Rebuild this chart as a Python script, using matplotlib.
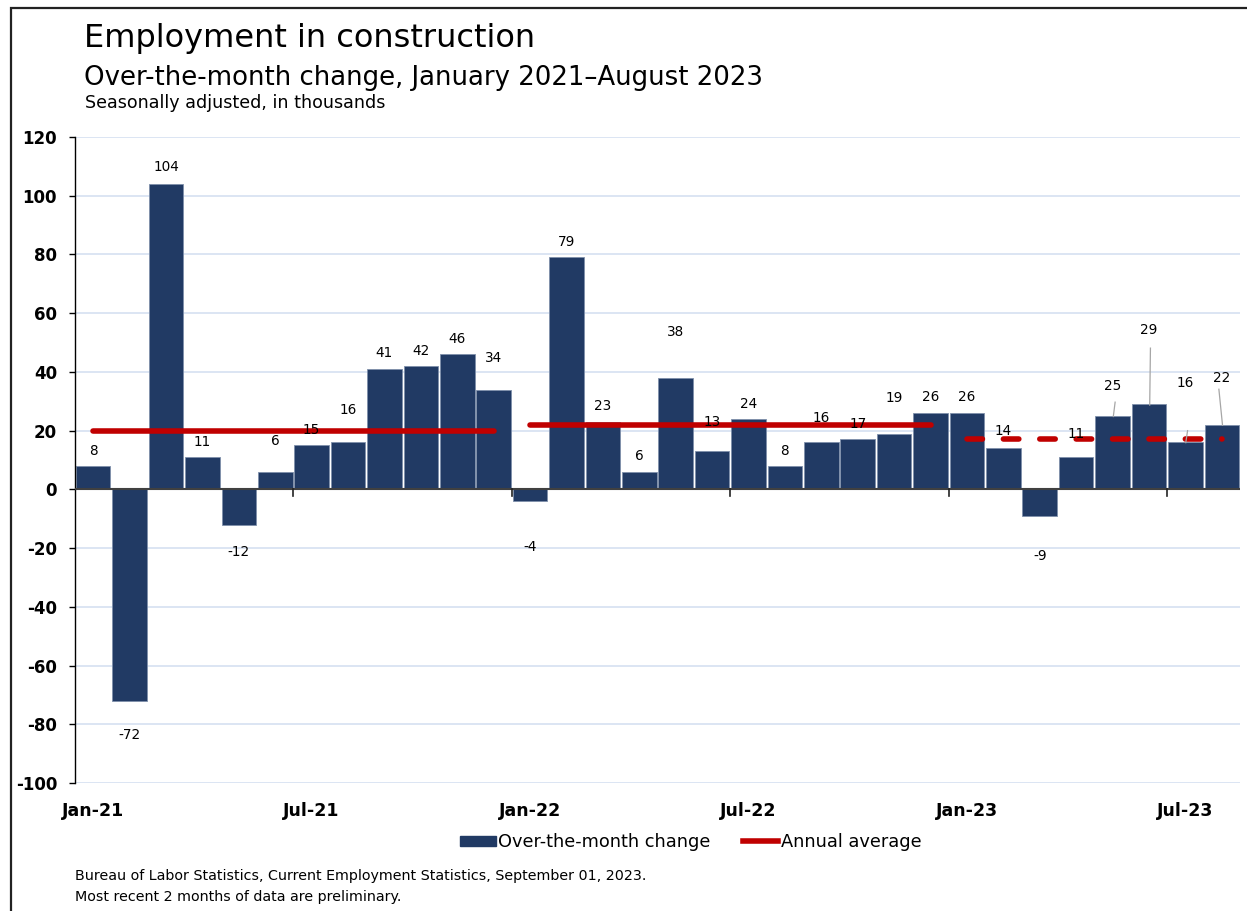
import matplotlib
matplotlib.use('Agg')
import matplotlib.pyplot as plt
from matplotlib.lines import Line2D
from matplotlib.patches import Patch, Rectangle

# ---------------- data ----------------
months = ['Jan-21', 'Feb-21', 'Mar-21', 'Apr-21', 'May-21', 'Jun-21',
          'Jul-21', 'Aug-21', 'Sep-21', 'Oct-21', 'Nov-21', 'Dec-21',
          'Jan-22', 'Feb-22', 'Mar-22', 'Apr-22', 'May-22', 'Jun-22',
          'Jul-22', 'Aug-22', 'Sep-22', 'Oct-22', 'Nov-22', 'Dec-22',
          'Jan-23', 'Feb-23', 'Mar-23', 'Apr-23', 'May-23', 'Jun-23',
          'Jul-23', 'Aug-23']
values = [8, -72, 104, 11, -12, 6, 15, 16, 41, 42, 46, 34,
          -4, 79, 23, 6, 38, 13, 24, 8, 16, 17, 19, 26,
          26, 14, -9, 11, 25, 29, 16, 22]
avg_years = ['21', '22', '23']
avg_values = [20, 22, 17]
tick_labels = ['Jan-21', 'Jul-21', 'Jan-22', 'Jul-22', 'Jan-23', 'Jul-23']

# label placement (y position of each data label, in data units)
label_y = [13.1, -83.6, 109.7, 16.3, -21.3, 16.5, 20.2, 27.0, 46.4, 47.1, 51.2, 44.6,
           -19.7, 84.2, 28.4, 11.4, 53.6, 22.8, 29.0, 13.1, 24.3, 22.3, 31.0, 31.5,
           31.5, 19.9, -22.6, 18.9, 35.2, 54.3, 36.3, 38.0]
leader_lines = {28: ((28.07, 29.7), (28.02, 24.8)),
                29: ((29.04, 48.1), (29.02, 28.7)),
                30: ((30.06, 20.0), (30.01, 15.9)),
                31: ((30.92, 34.1), (31.02, 21.8))}

# ---------------- style ----------------
W, H = 1247, 911
NAVY = '#213a64'
RED = '#c00000'
FONT = 'DejaVu Sans'
plt.rcParams['font.family'] = [FONT]
plt.rcParams['axes.unicode_minus'] = False


def fx(px):
    return px / W


def fy(py):
    return 1 - py / H


fig = plt.figure(figsize=(W / 100, H / 100), dpi=100)
ax = fig.add_axes([fx(75), fy(783), (1240 - 75) / W, (783 - 137) / H])

x = list(range(len(values)))
ax.bar(x, values, width=0.95, color=NAVY, edgecolor='#7f90ab', linewidth=0.6, zorder=2)

ax.set_xlim(-0.5, len(values) - 0.5)
ax.set_ylim(-100, 120)
ax.set_yticks(range(-100, 121, 20))
ax.yaxis.grid(True, color='#d9e3f2', lw=1.3)
ax.set_axisbelow(True)
for s in ['top', 'right', 'bottom']:
    ax.spines[s].set_visible(False)
ax.spines['left'].set_color('black')
ax.spines['left'].set_linewidth(1.0)
ax.tick_params(axis='y', length=4.3, width=1, pad=8.6, labelsize=12, direction='out')
for t in ax.get_yticklabels():
    t.set_fontweight('bold')

tick_pos = [months.index(t) for t in tick_labels]
ax.set_xticks(tick_pos)
ax.set_xticklabels(tick_labels, fontsize=12.5, fontweight='bold')
ax.tick_params(axis='x', length=0, pad=13.5)

# zero line with boundary ticks
ax.axhline(0, color='#404040', lw=1.5, zorder=3)
for p in tick_pos[1:]:
    ax.plot([p - 0.5, p - 0.5], [0, -2.3], color='#222222', lw=1.2, zorder=3, clip_on=False)

# annual averages
for yr, av in zip(avg_years, avg_values):
    idx = [i for i, m in enumerate(months) if m.endswith(yr)]
    ls = '-' if len(idx) == 12 else '--'
    line, = ax.plot([idx[0], idx[-1]], [av, av], color=RED, lw=4.0, ls=ls,
                    solid_capstyle='round', dash_capstyle='round', zorder=4)
    if ls == '--':
        line.set_dashes((2.78, 3.77))

# data labels
for i, (v, ly) in enumerate(zip(values, label_y)):
    ax.text(i, ly, f'{v}', ha='center', va='center', fontsize=9.8, color='black', zorder=6)
for i, ((x0, y0), (x1, y1)) in leader_lines.items():
    ax.plot([x0, x1], [y0, y1], color='#a6a6a6', lw=0.9, zorder=5)

# titles
fig.text(fx(84), fy(47), 'Employment in construction', fontsize=23, va='baseline', ha='left')
fig.text(fx(84), fy(85), 'Over-the-month change, January 2021\u2013August 2023', fontsize=18.7,
         va='baseline', ha='left')
fig.text(fx(85), fy(108), 'Seasonally adjusted, in thousands', fontsize=12.6, va='baseline', ha='left')

# legend
handles = [Patch(facecolor=NAVY, edgecolor=NAVY), Line2D([0], [0], color=RED, lw=4)]
fig.legend(handles, ['Over-the-month change', 'Annual average'], loc='center',
           bbox_to_anchor=(fx(691), fy(842)), ncol=2, frameon=False, fontsize=12.8,
           handlelength=2.0, handleheight=0.5, handletextpad=0.15, columnspacing=1.8)

# footnotes
fig.text(fx(75), fy(880), 'Bureau of Labor Statistics, Current Employment Statistics, September 01, 2023.',
         fontsize=10.3, va='baseline', ha='left')
fig.text(fx(75), fy(901), 'Most recent 2 months of data are preliminary.',
         fontsize=10.3, va='baseline', ha='left')

# outer frame (left and top edges visible)
fig.add_artist(Rectangle((fx(11), -0.05), 1.0, fy(8) + 0.05, transform=fig.transFigure,
                         fill=False, edgecolor='#222222', lw=1.6))

fig.savefig('out.png', dpi=100)
